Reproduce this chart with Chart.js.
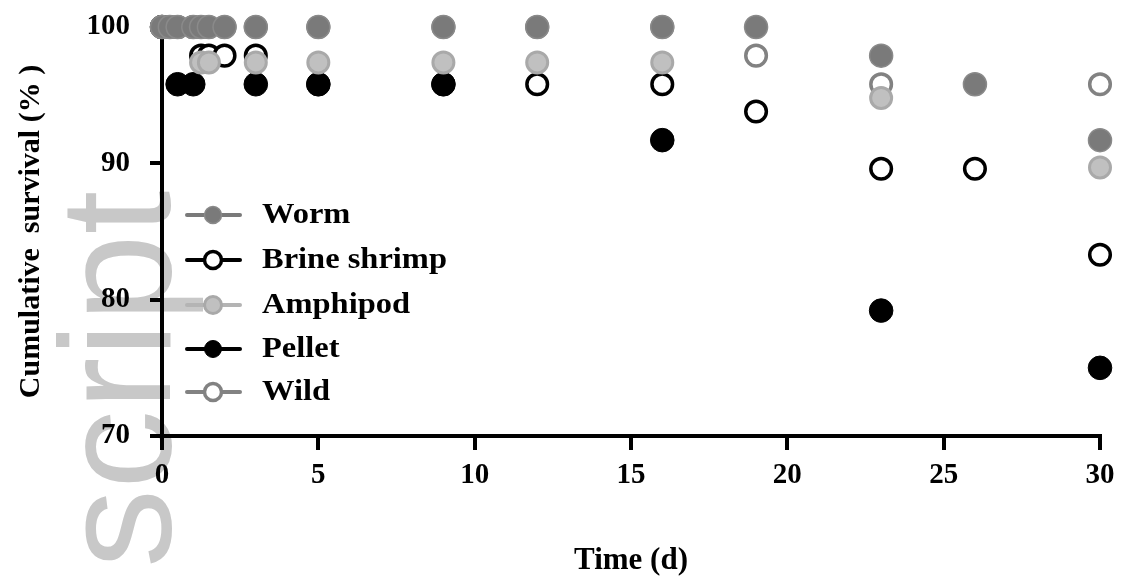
<!DOCTYPE html>
<html><head><meta charset="utf-8">
<script src="https://cdn.jsdelivr.net/npm/chart.js@4.4.0/dist/chart.umd.min.js"></script>
<style>html,body{margin:0;padding:0;background:#fff;}canvas{display:block;}</style>
</head><body>
<canvas id="c" width="1121" height="581"></canvas>
<script>
// ---- data ----
const seriesNames = ['Worm', 'Brine shrimp', 'Amphipod', 'Pellet', 'Wild'];
const wormDays = [0, 0.25, 0.5, 1, 1.25, 1.5, 2, 3, 5, 9, 12, 16, 19, 23, 26, 30];
const wormSurvival = [100, 100, 100, 100, 100, 100, 100, 100, 100, 100, 100, 100, 100, 97.9, 95.8, 91.7];
const brineDays = [0, 0.25, 0.5, 1, 1.25, 1.5, 2, 3, 5, 9, 12, 16, 19, 23, 26, 30];
const brineSurvival = [100, 100, 100, 100, 97.9, 97.9, 97.9, 97.9, 95.8, 95.8, 95.8, 95.8, 93.8, 89.6, 89.6, 83.3];
const amphipodDays = [0, 0.25, 0.5, 1, 1.25, 1.5, 3, 5, 9, 12, 16, 23, 30];
const amphipodSurvival = [100, 100, 100, 100, 97.4, 97.4, 97.4, 97.4, 97.4, 97.4, 97.4, 94.8, 89.7];
const pelletDays = [0, 0.5, 1, 3, 5, 9, 16, 23, 30];
const pelletSurvival = [100, 95.8, 95.8, 95.8, 95.8, 95.8, 91.7, 79.2, 75];
const wildDays = [0, 0.25, 0.5, 1, 1.25, 1.5, 2, 3, 5, 9, 12, 16, 19, 23, 30];
const wildSurvival = [100, 100, 100, 100, 100, 100, 100, 100, 100, 100, 100, 100, 97.9, 95.8, 95.8];
const xTicks = [0, 5, 10, 15, 20, 25, 30];
const yTicks = [70, 80, 90, 100];
const xTitle = 'Time (d)';
const yTitle = 'Cumulative  survival (% )';
const watermark = 'script';

function pts(xs, ys) { return xs.map((x, i) => ({ x: x, y: ys[i] })); }

const styles = [
  { bg: '#7a7a7a', border: '#8a8a8a', bw: 1.5, r: 11.5, order: 0 },
  { bg: '#ffffff', border: '#000000', bw: 3.5, r: 10.3, order: 4 },
  { bg: '#c0c0c0', border: '#a9a9a9', bw: 3, r: 10.5, order: 1 },
  { bg: '#000000', border: '#000000', bw: 1, r: 11.8, order: 2 },
  { bg: '#ffffff', border: '#828282', bw: 3.5, r: 10.3, order: 3 }
];
const allData = [
  pts(wormDays, wormSurvival),
  pts(brineDays, brineSurvival),
  pts(amphipodDays, amphipodSurvival),
  pts(pelletDays, pelletSurvival),
  pts(wildDays, wildSurvival)
];

const datasets = seriesNames.map((n, i) => ({
  label: n,
  data: allData[i],
  showLine: false,
  backgroundColor: styles[i].bg,
  borderColor: styles[i].border,
  pointBackgroundColor: styles[i].bg,
  pointBorderColor: styles[i].border,
  pointBorderWidth: styles[i].bw,
  pointRadius: styles[i].r,
  pointHoverRadius: styles[i].r,
  order: styles[i].order,
  clip: false
}));

const watermarkPlugin = {
  id: 'wm',
  beforeDraw(chart) {
    const ctx = chart.ctx;
    ctx.save();
    ctx.translate(170, 568);
    ctx.rotate(-Math.PI / 2);
    ctx.font = '158px "Liberation Sans", Arial, sans-serif';
    ctx.fillStyle = '#c8c8c8';
    ctx.textBaseline = 'alphabetic';
    ctx.textAlign = 'left';
    ctx.fillText(watermark, 0, 0);
    ctx.restore();
  }
};

const legendPlugin = {
  id: 'customLegend',
  afterDatasetsDraw(chart) {
    const ctx = chart.ctx;
    const x0 = 187, x1 = 240, xm = 213, tx = 262;
    const ys = [215, 260, 305, 349, 392];
    const lineColors = ['#7a7a7a', '#000000', '#b4b4b4', '#000000', '#828282'];
    ctx.save();
    seriesNames.forEach((n, i) => {
      const s = styles[i];
      const y = ys[i];
      ctx.strokeStyle = lineColors[i];
      ctx.lineWidth = 4;
      ctx.lineCap = 'round';
      ctx.beginPath(); ctx.moveTo(x0, y); ctx.lineTo(x1, y); ctx.stroke();
      ctx.beginPath();
      ctx.arc(xm, y, 8.5, 0, Math.PI * 2);
      ctx.fillStyle = s.bg;
      ctx.fill();
      ctx.lineWidth = s.bw;
      ctx.strokeStyle = s.border;
      ctx.stroke();
      ctx.save();
      ctx.translate(tx, y);
      ctx.scale(1.12, 1);
      ctx.font = 'bold 29px "Liberation Serif", "Times New Roman", serif';
      ctx.fillStyle = '#000';
      ctx.textBaseline = 'middle';
      ctx.textAlign = 'left';
      ctx.fillText(n, 0, 1);
      ctx.restore();
    });
    ctx.restore();
  }
};

const tickFont = { family: '"Liberation Serif", "Times New Roman", serif', size: 29, weight: 'bold' };

new Chart(document.getElementById('c'), {
  type: 'scatter',
  data: { datasets: datasets },
  options: {
    responsive: false,
    animation: false,
    events: [],
    layout: { padding: { top: 27, right: 21, left: 0, bottom: 0 } },
    plugins: { legend: { display: false }, tooltip: { enabled: false } },
    scales: {
      x: {
        type: 'linear', min: 0, max: 30,
        afterBuildTicks(scale) { scale.ticks = xTicks.map(v => ({ value: v })); },
        afterFit(scale) { scale.height = 145; scale.paddingLeft = 0; scale.paddingRight = 0; },
        border: { display: true, color: '#000', width: 4 },
        grid: { display: true, drawOnChartArea: false, drawTicks: true, tickLength: 14, color: '#000', lineWidth: 4 },
        ticks: { color: '#000', font: tickFont, padding: 8, maxRotation: 0 },
        title: { display: true, text: xTitle, color: '#000', font: { family: '"Liberation Serif", "Times New Roman", serif', size: 31, weight: 'bold' }, padding: { top: 4, bottom: 1 } }
      },
      y: {
        type: 'linear', min: 70, max: 100,
        afterBuildTicks(scale) { scale.ticks = yTicks.map(v => ({ value: v })); },
        afterFit(scale) { scale.width = 162; scale.paddingTop = 0; scale.paddingBottom = 0; },
        border: { display: true, color: '#000', width: 4 },
        grid: { display: true, drawOnChartArea: false, drawTicks: true, tickLength: 12, color: '#000', lineWidth: 4 },
        ticks: { color: '#000', font: tickFont, padding: 20 },
        title: { display: true, text: yTitle, color: '#000', font: { family: '"Liberation Serif", "Times New Roman", serif', size: 30, weight: 'bold' }, padding: { top: 13, bottom: 0 } }
      }
    }
  },
  plugins: [watermarkPlugin, legendPlugin]
});
</script></body></html>
